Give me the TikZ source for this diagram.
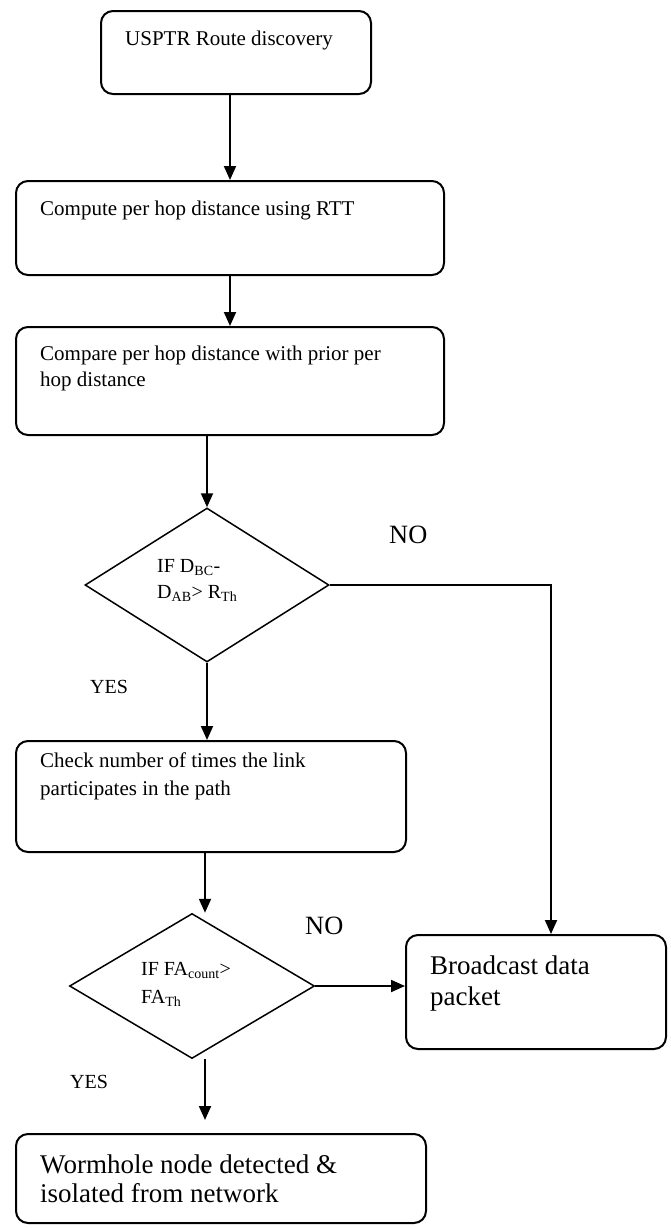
\documentclass[tikz,border=0pt]{standalone}
\usepackage{fontspec}
\setmainfont{Liberation Serif}
\usetikzlibrary{shapes.geometric,arrows.meta,calc}
\begin{document}
\begin{tikzpicture}[x=1pt,y=-1pt,
  box/.style={draw,line width=2pt,rounded corners=12pt,anchor=north west,inner sep=0pt},
  dia/.style={draw,diamond,line width=1.5pt,inner sep=0pt},
  txt/.style={anchor=base west,align=left,inner sep=0pt,font=\fontsize{21}{27}\selectfont},
  bigtxt/.style={anchor=base west,align=left,inner sep=0pt},
  dtxt/.style={anchor=base west,align=left,inner sep=0pt},
  lbl/.style={anchor=base west,inner sep=0pt},
  arr/.style={line width=2pt,-{Triangle[length=14pt,width=12pt]}}]
\useasboundingbox (0,0) rectangle (671,1229);

% boxes
\node[box,minimum width=270pt,minimum height=83pt] (b1) at (100,10) {};
\node[box,minimum width=428pt,minimum height=94pt] (b2) at (15,180) {};
\node[box,minimum width=428pt,minimum height=108pt] (b3) at (15,326) {};
\node[dia,minimum width=244pt,minimum height=154pt] (d1) at (207,585) {};
\node[box,minimum width=390pt,minimum height=111pt] (b4) at (15,740) {};
\node[dia,minimum width=245pt,minimum height=145pt] (d2) at (192,986) {};
\node[box,minimum width=260pt,minimum height=114pt] (bb) at (405,934) {};
\node[box,minimum width=410pt,minimum height=89pt] (b5) at (15,1133) {};

% texts (anchor = baseline of the last line)
\node[txt] (t1) at (125,45) {USPTR Route discovery};
\node[txt,font=\fontsize{21}{26}\selectfont] (t2) at (40,215) {Compute per hop distance using RTT};
\node[txt,font=\fontsize{21}{26}\selectfont] (t3) at (40,386) {Compare per hop distance with prior per\\hop distance};
\node[dtxt,font=\fontsize{20}{26}\selectfont] (t4) at (157,598) {IF D\textsubscript{BC}-\\D\textsubscript{AB}> R\textsubscript{Th}};
\node[txt,font=\fontsize{21}{28}\selectfont] (t5) at (40,795) {Check number of times the link\\participates in the path};
\node[dtxt,font=\fontsize{20}{28}\selectfont] (t6) at (141,1003) {IF FA\textsubscript{count}>\\FA\textsubscript{Th}};
\node[bigtxt,font=\fontsize{27}{31}\selectfont] (t7) at (430,1005) {Broadcast data\\packet};
\node[bigtxt,font=\fontsize{27}{29}\selectfont] (t8) at (40,1202) {Wormhole node detected \&\\isolated from network};

% labels
\node[lbl,font=\fontsize{26.4}{30}\selectfont] (no1) at (389,543) {NO};
\node[lbl,font=\fontsize{26.4}{30}\selectfont] (no2) at (305,934) {NO};
\node[lbl,font=\fontsize{20}{24}\selectfont] (yes1) at (90,693) {YES};
\node[lbl,font=\fontsize{20}{24}\selectfont] (yes2) at (70,1088) {YES};

% connectors
\coordinate (bbt) at ($(bb.north west)+(146,0)$);
\coordinate (d2out) at ($(d2.south)+(13,0)$);
\coordinate (b5in) at ($(b5.north west)+(190,-13)$);
\draw[arr] (b1.south -| b2.north) -- (b2.north);
\draw[arr] (b2.south) -- (b3.north);
\draw[arr] (b3.south -| d1.north) -- (d1.north);
\draw[arr] (d1.south) -- (d1.south |- b4.north);
\draw[arr] (b4.south -| d2out) -- (d2out |- d2.north);
\draw[arr] (d1.east) -| (bbt);
\draw[arr] (d2.east) -- (d2.east -| bb.west);
\draw[arr] (d2out) -- (d2out |- b5in);
\end{tikzpicture}
\end{document}
